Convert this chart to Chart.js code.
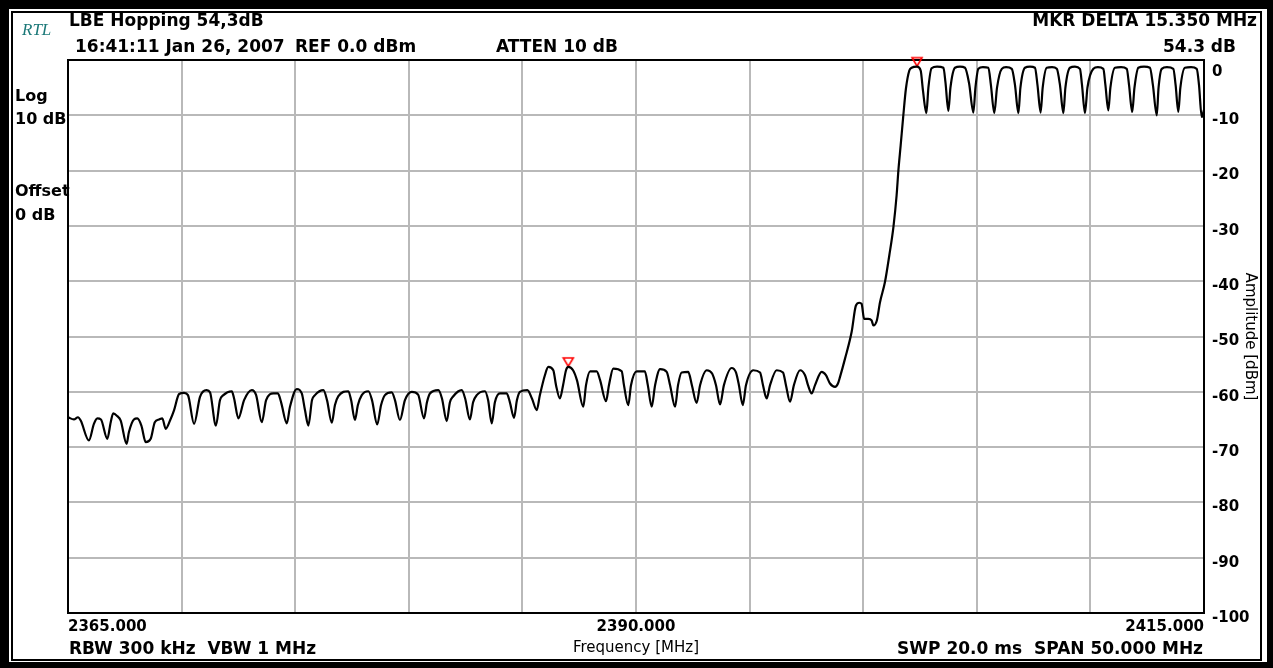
<!DOCTYPE html>
<html>
<head>
<meta charset="utf-8">
<script src="https://cdn.jsdelivr.net/npm/chart.js@4.4.1/dist/chart.umd.min.js"></script>
<style>
  html, body { margin: 0; padding: 0; background: #fff; overflow: hidden; }
</style>
</head>
<body>
<canvas id="spectrum" width="1273" height="668"></canvas>
<script>
// sweep span and graticule
const startMHz = 2365;
const stopMHz = 2415;
const refDbm = 0;
const bottomDbm = -100;
const freqLabels = [2365, 2390, 2415];

// trace points (MHz / dBm)
const traceMHz = [
  2365.00, 2365.26, 2365.44, 2365.56, 2365.92, 2366.14, 2366.29, 2366.45, 2366.73, 2366.88,
  2366.99, 2367.17, 2367.32, 2367.58, 2367.68, 2367.90, 2368.05, 2368.23, 2368.42, 2368.64,
  2368.82, 2369.01, 2369.15, 2369.30, 2369.49, 2369.67, 2369.89, 2370.11, 2370.28, 2370.55,
  2370.81, 2371.10, 2371.25, 2371.51, 2371.69, 2371.84, 2372.21, 2372.31, 2372.50, 2372.75,
  2373.09, 2373.28, 2373.53, 2373.72, 2374.04, 2374.24, 2374.38, 2374.63, 2374.77, 2375.07,
  2375.29, 2375.43, 2375.58, 2375.74, 2375.87, 2376.24, 2376.40, 2376.61, 2376.75, 2376.90,
  2377.34, 2377.46, 2377.63, 2377.76, 2377.93, 2378.22, 2378.38, 2378.61, 2378.78, 2378.95,
  2379.25, 2379.39, 2379.61, 2379.83, 2380.13, 2380.41, 2380.67, 2380.80, 2380.93, 2381.30,
  2381.46, 2381.67, 2381.81, 2381.96, 2382.33, 2382.48, 2382.69, 2382.83, 2382.99, 2383.35,
  2383.49, 2383.65, 2383.79, 2384.01, 2384.31, 2384.45, 2384.63, 2384.76, 2384.89, 2385.22,
  2385.42, 2385.63, 2385.77, 2385.99, 2386.14, 2386.36, 2386.48, 2386.65, 2386.79, 2386.92,
  2387.02, 2387.23, 2387.40, 2387.68, 2387.80, 2387.98, 2388.27, 2388.42, 2388.68, 2388.81,
  2389.00, 2389.37, 2389.47, 2389.66, 2389.78, 2390.03, 2390.39, 2390.52, 2390.69, 2390.84,
  2391.06, 2391.35, 2391.50, 2391.72, 2391.85, 2392.01, 2392.30, 2392.46, 2392.67, 2392.82,
  2393.11, 2393.35, 2393.52, 2393.70, 2393.87, 2394.21, 2394.40, 2394.53, 2394.70, 2394.84,
  2395.16, 2395.46, 2395.59, 2395.75, 2395.90, 2396.19, 2396.47, 2396.60, 2396.78, 2396.95,
  2397.22, 2397.44, 2397.57, 2397.73, 2397.88, 2398.17, 2398.36, 2398.54, 2398.76, 2398.89,
  2398.98, 2399.20, 2399.49, 2399.68, 2399.83, 2399.93, 2400.04, 2400.22, 2400.37, 2400.45,
  2400.60, 2400.74, 2400.96, 2401.15, 2401.33, 2401.47, 2401.55, 2401.65, 2401.76, 2401.88,
  2402.03, 2402.13, 2402.37, 2402.53, 2402.63, 2402.78,
  2402.87, 2403.01, 2403.25, 2403.53, 2403.62, 2403.75,
  2403.84, 2404.04, 2404.26, 2404.48, 2404.66, 2404.85,
  2404.94, 2405.07, 2405.27, 2405.51, 2405.62, 2405.77,
  2405.89, 2406.10, 2406.29, 2406.54, 2406.68, 2406.83,
  2406.92, 2407.12, 2407.34, 2407.56, 2407.67, 2407.81,
  2407.90, 2408.08, 2408.31, 2408.52, 2408.66, 2408.81,
  2408.90, 2409.10, 2409.32, 2409.54, 2409.63, 2409.76,
  2409.87, 2410.13, 2410.33, 2410.57, 2410.66, 2410.79,
  2410.88, 2411.08, 2411.35, 2411.60, 2411.70, 2411.84,
  2411.94, 2412.11, 2412.36, 2412.62, 2412.75, 2412.92,
  2413.00, 2413.14, 2413.37, 2413.65, 2413.75, 2413.87,
  2413.96, 2414.16, 2414.43, 2414.68, 2414.78, 2414.90, 2415.00
];
const traceDbm = [
  -64.6, -65.0, -64.6, -65.2, -68.8, -65.8, -64.8, -65.0, -68.5, -65.5,
  -63.9, -64.4, -65.2, -69.4, -67.3, -65.0, -64.8, -66.1, -69.1, -68.5,
  -65.5, -65.0, -64.8, -66.7, -65.2, -63.3, -60.4, -60.2, -60.6, -65.8,
  -60.9, -59.7, -60.1, -66.1, -61.5, -60.6, -59.9, -61.2, -64.8, -61.5,
  -59.7, -60.6, -65.5, -61.5, -60.3, -60.3, -61.9, -65.7, -62.7, -59.5,
  -60.3, -63.3, -66.1, -61.5, -60.6, -59.7, -61.5, -65.6, -62.4, -60.8,
  -59.9, -61.5, -65.1, -62.4, -60.6, -59.9, -61.5, -65.9, -62.4, -60.6,
  -60.1, -61.5, -65.1, -61.5, -60.0, -60.5, -64.8, -61.9, -60.3, -59.7,
  -61.2, -65.3, -61.9, -60.8, -59.7, -61.2, -65.0, -61.9, -60.6, -59.9,
  -61.5, -65.7, -61.9, -60.3, -60.3, -61.9, -64.7, -61.5, -60.0, -59.7,
  -61.2, -63.3, -60.6, -57.0, -55.5, -56.1, -58.8, -61.2, -58.8, -56.1,
  -55.5, -56.1, -57.9, -62.7, -58.8, -56.3, -56.3, -57.9, -61.7, -58.8,
  -55.8, -56.3, -58.8, -62.4, -58.8, -56.3, -56.3, -58.8, -62.7, -58.8,
  -55.9, -56.4, -58.8, -62.7, -58.8, -56.5, -56.4, -58.8, -62.0, -58.8,
  -56.1, -56.7, -58.8, -62.3, -58.8, -55.7, -56.5, -58.8, -62.4, -58.8,
  -56.1, -56.5, -58.8, -61.2, -58.8, -56.1, -56.5, -58.8, -61.8, -58.8,
  -56.1, -57.0, -58.8, -60.3, -58.8, -56.4, -57.0, -58.5, -59.1, -58.5,
  -57.3, -54.0, -49.2, -44.4, -43.9, -44.1, -46.8, -46.8, -47.1, -48.0,
  -47.1, -43.8, -40.1, -35.3, -30.2, -24.5, -19.9, -15.4, -10.3, -5.2,
  -1.9, -1.4, -1.2, -1.9, -5.5, -9.6,
  -5.0, -1.5, -1.2, -1.4, -4.0, -9.2,
  -5.0, -1.4, -1.2, -1.4, -4.2, -9.5,
  -5.0, -1.6, -1.3, -1.4, -4.5, -9.6,
  -5.0, -1.6, -1.3, -1.6, -4.5, -9.6,
  -5.0, -1.4, -1.2, -1.4, -4.5, -9.5,
  -5.0, -1.4, -1.3, -1.6, -4.5, -9.6,
  -5.0, -1.4, -1.2, -1.6, -4.5, -9.6,
  -5.0, -1.6, -1.3, -1.6, -4.5, -9.1,
  -5.0, -1.4, -1.3, -1.6, -4.5, -9.4,
  -5.0, -1.4, -1.2, -1.4, -4.5, -10.0,
  -5.0, -1.6, -1.3, -1.6, -4.5, -9.4,
  -5.0, -1.4, -1.3, -1.6, -4.5, -10.3, -9.0
];

// reference marker and delta marker
const markerMHz = [2387.02, 2402.37];
const markerDbm = [-55.5, -1.2];

const deltaMHz = markerMHz[1] - markerMHz[0];
const deltaDb = markerDbm[1] - markerDbm[0];

const headerTitle = 'LBE Hopping 54,3dB';
const headerStamp = '16:41:11 Jan 26, 2007';
const headerRef = 'REF 0.0 dBm';
const headerAtten = 'ATTEN 10 dB';
const footerLeft = 'RBW 300 kHz  VBW 1 MHz';
const footerRight = 'SWP 20.0 ms  SPAN 50.000 MHz';

const SANS = '"DejaVu Sans", "Liberation Sans", sans-serif';
const GRID = '#b9b9b9';

// downward red triangle, tip at the image centre so it sits on the trace
function markerGlyph() {
  const c = document.createElement('canvas');
  c.width = 14; c.height = 22;
  const g = c.getContext('2d');
  g.strokeStyle = '#ff0000';
  g.lineWidth = 1.6;
  g.beginPath();
  g.moveTo(2, 2);
  g.lineTo(12, 2);
  g.lineTo(7, 10.5);
  g.closePath();
  g.stroke();
  return c;
}

const panel = {
  id: 'panel',
  beforeDraw(chart) {
    const ctx = chart.ctx;
    const w = chart.width, h = chart.height;
    ctx.save();
    ctx.fillStyle = '#000';
    ctx.fillRect(0, 0, w, h);
    ctx.fillStyle = '#fff';
    ctx.fillRect(9, 9, w - 15, h - 15);
    ctx.strokeStyle = '#000';
    ctx.lineWidth = 2;
    ctx.strokeRect(12, 12, w - 24, h - 20);
    ctx.restore();
  },
  beforeDatasetsDraw(chart) {
    const a = chart.chartArea;
    const ctx = chart.ctx;
    ctx.save();
    ctx.strokeStyle = '#000';
    ctx.lineWidth = 2;
    ctx.strokeRect(a.left, a.top, a.right - a.left, a.bottom - a.top);
    ctx.restore();
  },
  afterDraw(chart) {
    const ctx = chart.ctx;
    ctx.save();
    ctx.textBaseline = 'middle';
    ctx.fillStyle = '#000';

    ctx.font = 'bold 17px ' + SANS;
    ctx.textAlign = 'left';
    ctx.fillText(headerTitle, 69, 22);
    ctx.fillText(headerStamp, 75, 48);
    ctx.fillText(headerRef, 295, 48);
    ctx.fillText(headerAtten, 496, 48);
    ctx.fillText(footerLeft, 69, 650);

    ctx.textAlign = 'right';
    ctx.fillText('MKR DELTA ' + deltaMHz.toFixed(3) + ' MHz', 1257, 22);
    ctx.fillText(deltaDb.toFixed(1) + ' dB', 1236, 48);
    ctx.fillText(footerRight, 1203, 650);

    ctx.font = 'bold 16px ' + SANS;
    ctx.textAlign = 'left';
    ctx.fillText('Log', 15, 97);
    ctx.fillText('10 dB', 15, 120);
    ctx.fillText('Offset', 15, 192);
    ctx.fillText('0 dB', 15, 216);

    ctx.font = 'italic 17px "Liberation Serif", serif';
    ctx.fillStyle = '#1b7878';
    ctx.fillText('RTL', 22, 31);
    ctx.restore();
  }
};

const config = {
  type: 'line',
  data: {
    datasets: [
      {
        label: 'trace',
        data: traceMHz.map((f, i) => ({ x: f, y: traceDbm[i] })),
        borderColor: '#000',
        borderWidth: 2.2,
        pointRadius: 0,
        cubicInterpolationMode: 'monotone',
        fill: false
      },
      {
        label: 'markers',
        data: markerMHz.map((f, i) => ({ x: f, y: markerDbm[i] })),
        showLine: false,
        clip: false,
        pointStyle: markerGlyph(),
        pointRadius: 7
      }
    ]
  },
  options: {
    responsive: false,
    animation: false,
    events: [],
    layout: { padding: { left: 68, top: 60, right: 0, bottom: 0 } },
    plugins: {
      legend: { display: false },
      tooltip: { enabled: false }
    },
    scales: {
      x: {
        type: 'linear',
        position: 'bottom',
        min: startMHz,
        max: stopMHz,
        afterFit: s => { s.height = 55; },
        border: { display: false },
        grid: { color: GRID, lineWidth: 2, drawTicks: false },
        ticks: {
          stepSize: 5,
          autoSkip: false,
          maxRotation: 0,
          align: 'inner',
          padding: 5,
          color: '#000',
          font: { family: SANS, size: 15, weight: 'bold' },
          callback: v => freqLabels.includes(v) ? v.toFixed(3) : ''
        },
        title: {
          display: true,
          text: 'Frequency [MHz]',
          color: '#000',
          font: { family: SANS, size: 15 },
          padding: { top: 0, bottom: 11 }
        }
      },
      y: {
        type: 'linear',
        position: 'right',
        min: bottomDbm,
        max: refDbm,
        afterFit: s => { s.width = 69; },
        border: { display: false },
        grid: { color: GRID, lineWidth: 2, drawTicks: false },
        ticks: {
          stepSize: 10,
          crossAlign: 'near',
          padding: 8,
          labelOffset: 5,
          color: '#000',
          font: { family: SANS, size: 15, weight: 'bold', lineHeight: 1 },
          // the reference level label sits just under the top edge
          callback: v => v === refDbm ? ['', String(v)] : String(v)
        },
        title: {
          display: true,
          text: 'Amplitude [dBm]',
          color: '#000',
          font: { family: SANS, size: 15 },
          padding: { top: 14, bottom: 0 }
        }
      }
    }
  },
  plugins: [panel]
};

new Chart(document.getElementById('spectrum'), config);
</script>
</body>
</html>
